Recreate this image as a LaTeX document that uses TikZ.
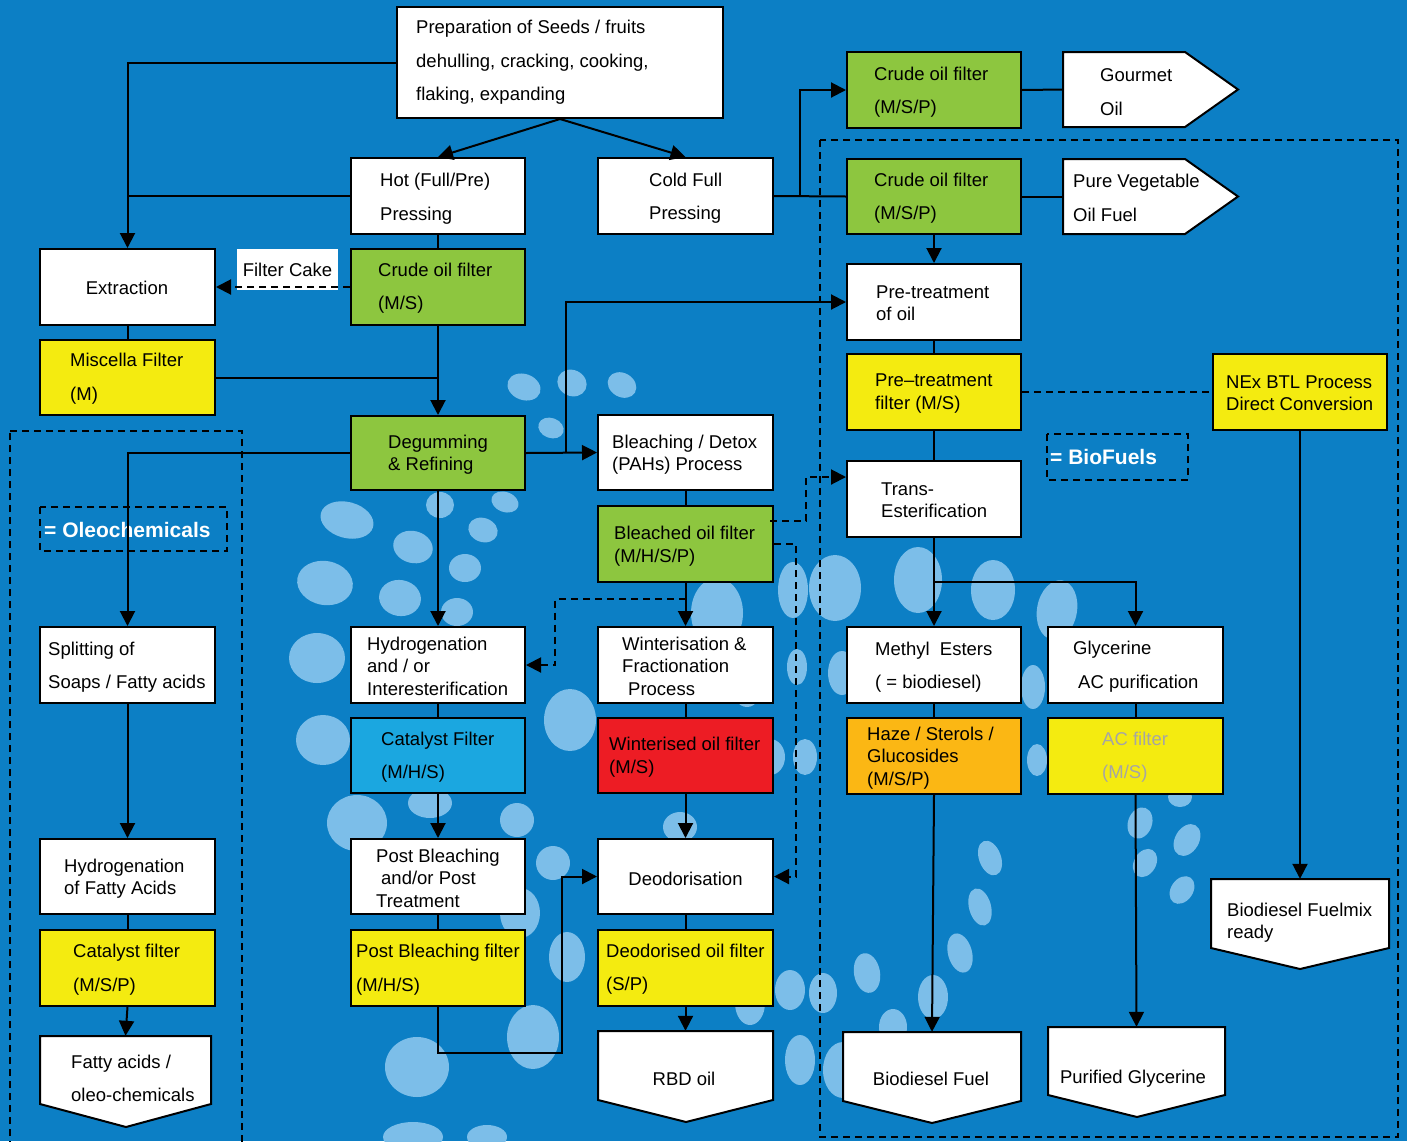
\documentclass[tikz,border=0pt]{standalone}
\usepackage{fontspec}
\setmainfont{Liberation Sans}
\usetikzlibrary{arrows.meta}
\definecolor{bgblue}{RGB}{12,127,197}
\definecolor{bubble}{RGB}{124,190,233}
\definecolor{fgreen}{RGB}{141,198,63}
\definecolor{fyellow}{RGB}{244,235,16}
\definecolor{fred}{RGB}{237,28,36}
\definecolor{fcyan}{RGB}{27,167,224}
\definecolor{forange}{RGB}{251,183,20}
\definecolor{greytxt}{RGB}{165,165,165}
\tikzset{
  box/.style={draw=black, line width=2pt, inner sep=0pt, minimum width=174pt, minimum height=76pt},
  ghost/.style={inner sep=0pt},
  txt/.style={inner sep=0pt, align=left, anchor=west, yshift=-1.5pt, font=\fontsize{18.5}{33.5}\selectfont},
  ttxt/.style={inner sep=0pt, align=left, anchor=west, yshift=-1.5pt, font=\fontsize{18.5}{22.5}\selectfont},
  ctxt/.style={inner sep=0pt, align=center, yshift=-1.5pt, font=\fontsize{18.5}{22.5}\selectfont},
  btxt/.style={inner sep=0pt, anchor=west, text=white, font=\fontsize{21}{24}\selectfont\bfseries},
  ln/.style={line width=2pt},
  arr/.style={line width=2pt, -{Triangle[length=15pt, width=15pt]}},
  dsh/.style={line width=2pt, dash pattern=on 7pt off 5pt},
  dtip/.style={-{Triangle[length=15pt, width=15pt]}},
  region/.style={line width=2pt, dash pattern=on 7pt off 5pt},
  pent/.style={draw=black, line width=2pt, fill=white, line join=miter},
}
\begin{document}
\begin{tikzpicture}[x=1pt,y=-1pt]
\useasboundingbox (0,0) rectangle (1407,1141);
\fill[bgblue] (0,0) rectangle (1407,1141);
% background bubbles
\foreach \bx/\by/\ra/\rb/\rr in {
 524/387/17/13/-20, 572/383/15/13/-25, 622/385/15/12/-30, 551/428/13/10/-20,
 505/502/14/10/-20, 483/530/15/12/-20, 440/505/14/13/0,
 347/520/27/18/-15, 413/547/20/16/-15, 325/583/28/22/-10, 400/598/21/18/-10,
 465/568/16/14/0, 457/612/16/14/0, 317/658/28/25/0, 323/740/27/25/0,
 357/823/30/28/0, 430/803/22/15/0, 517/820/17/17/0, 553/863/17/17/0,
 520/913/20/25/0, 567/957/18/25/0, 533/1037/26/32/0, 417/1067/32/30/0,
 413/1137/30/15/0, 487/1137/20/12/0, 680/827/17/15/0, 717/613/26/35/0,
 747/687/15/20/0, 770/757/15/18/0, 793/590/15/28/0, 797/667/10/18/0,
 570/720/26/31/0, 750/1003/15/22/0, 790/990/15/20/0, 800/1060/15/25/0,
 835/588/26/33/0, 918/580/24/33/0, 993/590/22/30/0, 1057/610/20/30/-10,
 842/673/14/22/0, 1033/687/12/22/0, 1037/760/10/16/0, 805/757/12/18/0,
 1140/823/12/16/-20, 1187/840/12/17/-30, 1145/863/11/15/-30, 1182/890/11/15/-35,
 1180/797/12/10/0, 990/858/11/18/20, 980/907/11/19/15, 960/953/12/20/15,
 867/973/13/20/10, 933/997/15/22/0, 823/993/14/20/0, 893/1027/14/18/0,
 843/1070/20/28/0, 620/975/16/12/0, 735/975/14/12/0}
 { \fill[bubble] (\bx,\by) ellipse [x radius=\ra pt, y radius=\rb pt, rotate=\rr]; }
% dashed regions
\draw[region] (10,431) -- (242,431) -- (242,1160);
\draw[region] (10,1160) -- (10,431);
\draw[region] (820,140) rectangle (1398,1137);
% boxes
\node[box, fill=white, minimum width=326pt, minimum height=111pt] (prep) at (560,62.5) {};
\node[box, fill=white] (hot) at (438,196) {};
\node[box, fill=white, minimum width=175pt] (cold) at (685.5,196) {};
\node[box, fill=fgreen] (cof1) at (934,90) {};
\node[box, fill=fgreen, minimum height=75pt] (cof2) at (934,196.5) {};
\node[box, fill=white, minimum width=175pt] (ext) at (127.5,287) {};
\node[box, fill=fgreen] (cofms) at (438,287) {};
\node[box, fill=white] (pre) at (934,302) {};
\node[box, fill=fyellow, minimum width=175pt, minimum height=75pt] (mis) at (127.5,377.5) {};
\node[box, fill=fyellow] (ptf) at (934,392) {};
\node[box, fill=fyellow] (nex) at (1300,392) {};
\node[box, fill=fgreen, minimum height=74pt] (deg) at (438,453) {};
\node[box, fill=white, minimum width=175pt, minimum height=75pt] (bleach) at (685.5,452.5) {};
\node[box, fill=white] (trans) at (934,499) {};
\node[box, fill=fgreen, minimum width=175pt] (bof) at (685.5,544) {};
\node[box, fill=white, minimum width=175pt] (split) at (127.5,665) {};
\node[box, fill=white] (hyd) at (438,665) {};
\node[box, fill=white, minimum width=175pt] (wint) at (685.5,665) {};
\node[box, fill=white] (meth) at (934,665) {};
\node[box, fill=white, minimum width=175pt] (gly) at (1135.5,665) {};
\node[box, fill=fcyan, minimum height=75pt] (catf) at (438,755.5) {};
\node[box, fill=fred, minimum width=175pt, minimum height=75pt] (wof) at (685.5,755.5) {};
\node[box, fill=forange] (haze) at (934,756) {};
\node[box, fill=fyellow, minimum width=175pt] (acf) at (1135.5,756) {};
\node[box, fill=white, minimum width=175pt, minimum height=75pt] (hfa) at (127.5,876.5) {};
\node[box, fill=white, minimum height=75pt] (pb) at (438,876.5) {};
\node[box, fill=white, minimum width=175pt, minimum height=75pt] (deo) at (685.5,876.5) {};
\node[box, fill=fyellow, minimum width=175pt] (catf2) at (127.5,968) {};
\node[box, fill=fyellow] (pbf) at (438,968) {};
\node[box, fill=fyellow, minimum width=175pt] (dof) at (685.5,968) {};
% pentagon end products
\draw[pent] (1063,52) -- (1185,52) -- (1238,89.5) -- (1185,127) -- (1063,127) -- cycle;
\node[ghost, minimum width=175pt, minimum height=75pt] (gour) at (1150.5,89.5) {};
\draw[pent] (1063,159) -- (1185,159) -- (1238,196.5) -- (1185,234) -- (1063,234) -- cycle;
\node[ghost, minimum width=175pt, minimum height=75pt] (pvo) at (1150.5,196.5) {};
\draw[pent] (1211,879) -- (1389,879) -- (1389,948) -- (1300,969) -- (1211,948) -- cycle;
\node[ghost, minimum width=178pt, minimum height=90pt] (fuelmix) at (1300,924) {};
\draw[pent] (40,1036) -- (211,1036) -- (211,1104) -- (126,1127) -- (40,1104) -- cycle;
\node[ghost, minimum width=171pt, minimum height=91pt] (fatty) at (125.5,1081.5) {};
\draw[pent] (598,1031) -- (773,1031) -- (773,1100) -- (686,1122) -- (598,1100) -- cycle;
\node[ghost, minimum width=175pt, minimum height=91pt] (rbd) at (685.5,1076.5) {};
\draw[pent] (843,1032) -- (1021,1032) -- (1021,1101) -- (932,1123) -- (843,1101) -- cycle;
\node[ghost, minimum width=178pt, minimum height=91pt] (biof) at (932,1077.5) {};
\draw[pent] (1048,1027) -- (1225,1027) -- (1225,1095) -- (1137,1117) -- (1048,1095) -- cycle;
\node[ghost, minimum width=177pt, minimum height=90pt] (pglyc) at (1136.5,1072) {};
% filter cake label
\node[fill=white, inner sep=0pt, minimum width=101pt, minimum height=41pt, font=\fontsize{18.5}{22}\selectfont] (fc) at (287.5,269.5) {Filter Cake};
% texts
\node[txt] (prepT) at (416,61) {Preparation of Seeds / fruits\\dehulling, cracking, cooking,\\flaking, expanding};
\node[txt] (hotT) at (380,197) {Hot (Full/Pre)\\Pressing};
\node[txt] (coldT) at (649,196.5) {Cold Full\\Pressing};
\node[txt] (cof1T) at (874,90.5) {Crude oil filter\\(M/S/P)};
\node[txt] (gourT) at (1100,90.5) {Gourmet\\Oil};
\node[txt] (cof2T) at (874,196.5) {Crude oil filter\\(M/S/P)};
\node[txt] (pvoT) at (1073,196.5) {Pure Vegetable\\Oil Fuel};
\node[ctxt] (extT) at (127,286) {Extraction};
\node[txt] (cofmsT) at (378,286.5) {Crude oil filter\\(M/S)};
\node[ttxt] (preT) at (876,301.5) {Pre-treatment\\of oil};
\node[txt] (misT) at (70,377) {Miscella Filter\\(M)};
\node[ttxt] (ptfT) at (875,392) {Pre–treatment\\filter (M/S)};
\node[ttxt] (nexT) at (1226,391.5) {NEx BTL Process\\Direct Conversion};
\node[ttxt] (degT) at (388,453) {Degumming\\\& Refining};
\node[ttxt] (bleachT) at (612,453) {Bleaching / Detox\\(PAHs) Process};
\node[btxt] (bioL) at (1050,457) {= BioFuels};
\node[ttxt] (transT) at (881,498.5) {Trans-\\Esterification};
\node[btxt] (oleoL) at (44,530) {= Oleochemicals};
\node[ttxt] (bofT) at (614,544.5) {Bleached oil filter\\(M/H/S/P)};
\node[txt] (splitT) at (48,665.5) {Splitting of\\Soaps / Fatty acids};
\node[ttxt] (hydT) at (367,664.5) {Hydrogenation\\and / or\\Interesterification};
\node[ttxt] (wintT) at (622,664.5) {Winterisation \&\\Fractionation\\\hspace*{6pt}Process};
\node[txt] (methT) at (875,665.5) {Methyl\ \ Esters\\( = biodiesel)};
\node[txt] (glyT) at (1073,665) {Glycerine\\\hspace*{5pt}AC purification};
\node[txt] (catfT) at (381,755.5) {Catalyst Filter\\(M/H/S)};
\node[ttxt] (wofT) at (609,755.5) {Winterised oil filter\\(M/S)};
\node[ttxt] (hazeT) at (867,756.5) {Haze / Sterols /\\Glucosides\\(M/S/P)};
\node[txt, text=greytxt] (acfT) at (1102,755.5) {AC filter\\(M/S)};
\node[ttxt] (hfaT) at (64,877) {Hydrogenation\\of Fatty Acids};
\node[ttxt] (pbT) at (376,876.5) {Post Bleaching\\\hspace*{5pt}and/or Post\\Treatment};
\node[ctxt] (deoT) at (685.5,877) {Deodorisation};
\node[ttxt] (fuelmixT) at (1227,921) {Biodiesel Fuelmix\\ready};
\node[txt] (catf2T) at (73,968) {Catalyst filter\\(M/S/P)};
\node[txt] (pbfT) at (356,968) {Post Bleaching filter\\(M/H/S)};
\node[txt] (dofT) at (606,967.5) {Deodorised oil filter\\(S/P)};
\node[txt] (fattyT) at (71,1077) {Fatty acids /\\oleo-chemicals};
\node[ctxt] (rbdT) at (684,1077) {RBD oil};
\node[ctxt] (biofT) at (931,1077) {Biodiesel Fuel};
\node[ctxt] (pglycT) at (1133,1077) {Purified Glycerine};
% label boxes (dashed)
\draw[region] (1047,434) rectangle (1188,480);
\draw[region] (40,507) rectangle (227,551);
% connectors
\draw[arr] (prep.west) -| (ext.north);
\draw[ln] (hot.west) -- (hot.west -| ext.north);
\draw[arr] (prep.south) -- (hot.north);
\draw[arr] (prep.south) -- (cold.north);
\draw[ln] (hot.south) -- (cofms.north);
\draw[arr] (cofms.south) -- (deg.north);
\draw[ln] (ext.south) -- (mis.north);
\draw[ln] (mis.east) -- (mis.east -| deg.north);
\draw[dsh, dtip] (cofms.west) -- (ext.east);
\coordinate (j2) at (800,196.5);
\draw[ln] (cold.east) -- (cof2.west);
\draw[arr] (j2) |- (cof1.west);
\draw[ln] (cof1.east) -- (gour.west);
\draw[ln] (cof2.east) -- (pvo.west);
\draw[arr] (cof2.south) -- (pre.north);
\draw[arr] (deg.east) -- (bleach.west);
\coordinate (j3) at (566,453);
\draw[arr] (j3) |- (pre.west);
\draw[arr] (deg.west) -| (split.north);
\draw[arr] (deg.south) -- (hyd.north);
\draw[ln] (pre.south) -- (ptf.north);
\draw[dsh] (ptf.east) -- (nex.west);
\draw[ln] (ptf.south) -- (trans.north);
\draw[ln] (bleach.south) -- (bof.north);
\coordinate (d1s) at (770,521);
\coordinate (d1a) at (806,521);
\coordinate (d1b) at (806,477);
\draw[dsh, dtip] (d1s) -- (d1a) -- (d1b) -- (d1b -| trans.west);
\coordinate (d2a) at (796,544);
\draw[dsh, dtip] (bof.east) -- (d2a) |- (deo.east);
\draw[arr] (bof.south) -- (wint.north);
\coordinate (d3s) at (685.5,599);
\coordinate (d3a) at (555,599);
\draw[dsh, dtip] (d3s) -- (d3a) |- (hyd.east);
\draw[arr] (trans.south) -- (meth.north);
\coordinate (j4) at (934,582);
\draw[arr] (j4) -| (gly.north);
\draw[arr] (nex.south) -- (fuelmix.north);
\draw[arr] (split.south) -- (hfa.north);
\draw[ln] (hyd.south) -- (catf.north);
\draw[arr] (catf.south) -- (pb.north);
\draw[ln] (wint.south) -- (wof.north);
\draw[arr] (wof.south) -- (deo.north);
\draw[ln] (meth.south) -- (haze.north);
\draw[ln] (gly.south) -- (acf.north);
\draw[arr] (haze.south) -- (biof.north);
\draw[arr] (acf.south) -- (pglyc.north);
\draw[ln] (hfa.south) -- (catf2.north);
\draw[arr] (catf2.south) -- (fatty.north);
\draw[ln] (pb.south) -- (pbf.north);
\coordinate (j5) at (562,1053);
\draw[arr] (pbf.south) |- (j5) |- (deo.west);
\draw[ln] (deo.south) -- (dof.north);
\draw[arr] (dof.south) -- (rbd.north);
\end{tikzpicture}
\end{document}
